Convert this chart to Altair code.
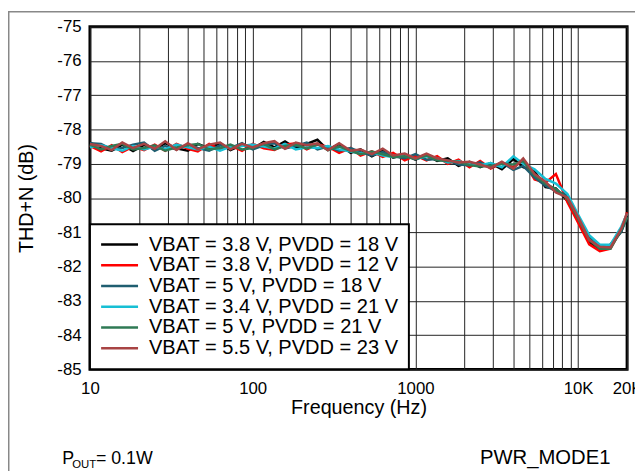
import altair as alt
import pandas as pd

freq = [10, 11.7, 13.6, 15.8, 18.4, 21.5, 25, 29, 34, 40, 46, 54, 63, 73, 86,
        100, 117, 136, 158, 184, 215, 250, 290, 340, 400, 460, 540, 630, 730, 860,
        1000, 1170, 1360, 1580, 1840, 2150, 2500, 2900, 3400, 4000, 4600, 5400,
        6300, 7300, 8600, 10000, 11700, 13600, 15800, 18400, 20000]

s1 = [-78.38, -78.55, -78.62, -78.44, -78.63, -78.45, -78.58, -78.40, -78.55, -78.62,
      -78.42, -78.55, -78.40, -78.60, -78.45, -78.56, -78.36, -78.52, -78.35, -78.55,
      -78.42, -78.30, -78.60, -78.42, -78.68, -78.58, -78.78, -78.62, -78.82, -78.74,
      -78.88, -78.74, -78.92, -78.84, -79.06, -78.94, -79.10, -78.98, -79.16, -78.86,
      -79.10, -79.22, -79.68, -79.72, -80.08, -80.62, -81.28, -81.50, -81.36, -80.98, -80.50]
s2 = [-78.48, -78.64, -78.46, -78.66, -78.50, -78.60, -78.44, -78.62, -78.42, -78.56,
      -78.64, -78.42, -78.58, -78.46, -78.62, -78.42, -78.55, -78.60, -78.44, -78.40,
      -78.58, -78.44, -78.50, -78.68, -78.54, -78.76, -78.64, -78.80, -78.68, -78.90,
      -78.76, -78.90, -78.78, -79.00, -78.88, -79.10, -78.92, -79.14, -78.98, -79.10,
      -78.90, -79.46, -79.55, -79.30, -80.12, -80.72, -81.35, -81.55, -81.48, -80.92, -80.42]
s3 = [-78.40, -78.42, -78.58, -78.54, -78.44, -78.38, -78.62, -78.48, -78.58, -78.44,
      -78.54, -78.62, -78.46, -78.54, -78.40, -78.58, -78.46, -78.40, -78.55, -78.48,
      -78.38, -78.58, -78.50, -78.62, -78.54, -78.66, -78.76, -78.66, -78.78, -78.84,
      -78.72, -78.88, -78.86, -78.90, -79.02, -79.04, -78.96, -79.12, -78.96, -79.18,
      -79.06, -79.40, -79.64, -79.80, -79.92, -80.55, -81.12, -81.42, -81.40, -80.98, -80.56]
s4 = [-78.52, -78.46, -78.54, -78.62, -78.48, -78.58, -78.50, -78.58, -78.44, -78.52,
      -78.58, -78.50, -78.62, -78.50, -78.48, -78.44, -78.50, -78.55, -78.42, -78.58,
      -78.52, -78.54, -78.48, -78.58, -78.64, -78.70, -78.66, -78.76, -78.80, -78.76,
      -78.86, -78.78, -78.84, -78.96, -78.92, -79.02, -79.04, -78.98, -79.10, -78.78,
      -79.00, -79.16, -79.44, -79.58, -79.88, -80.48, -81.08, -81.36, -81.36, -80.84, -80.46]
s5 = [-78.44, -78.58, -78.48, -78.42, -78.58, -78.54, -78.46, -78.62, -78.52, -78.46,
      -78.42, -78.58, -78.54, -78.44, -78.58, -78.54, -78.42, -78.58, -78.48, -78.44,
      -78.56, -78.42, -78.60, -78.50, -78.62, -78.72, -78.64, -78.72, -78.80, -78.78,
      -78.86, -78.76, -78.90, -78.92, -78.94, -79.04, -79.08, -79.06, -79.00, -79.02,
      -78.92, -79.34, -79.58, -79.74, -80.02, -80.60, -81.22, -81.48, -81.48, -80.92, -80.56]
s6 = [-78.42, -78.48, -78.60, -78.38, -78.54, -78.42, -78.56, -78.34, -78.60, -78.40,
      -78.58, -78.44, -78.38, -78.58, -78.42, -78.52, -78.40, -78.34, -78.56, -78.38,
      -78.46, -78.40, -78.60, -78.40, -78.62, -78.58, -78.72, -78.56, -78.76, -78.70,
      -78.84, -78.70, -78.84, -78.90, -78.96, -78.94, -79.02, -79.12, -78.94, -79.14,
      -78.84, -79.30, -79.52, -79.84, -79.98, -80.55, -81.22, -81.42, -81.44, -80.90, -80.44]

series_names = ["VBAT = 3.8 V, PVDD = 18 V", "VBAT = 3.8 V, PVDD = 12 V",
                "VBAT = 5 V, PVDD = 18 V", "VBAT = 3.4 V, PVDD = 21 V",
                "VBAT = 5 V, PVDD = 21 V", "VBAT = 5.5 V, PVDD = 23 V"]
series_colors = ["#000000", "#ff0000", "#1f5e70", "#17bfd4", "#2f7a55", "#a84444"]

x_grid = [10, 20, 30, 40, 50, 60, 70, 80, 90,
          100, 200, 300, 400, 500, 600, 700, 800, 900,
          1000, 2000, 3000, 4000, 5000, 6000, 7000, 8000, 9000,
          10000, 20000]
y_ticks = [-85, -84, -83, -82, -81, -80, -79, -78, -77, -76, -75]

rows = []
for name, vals in zip(series_names, [s1, s2, s3, s4, s5, s6]):
    for f, v in zip(freq, vals):
        rows.append({"Frequency": f, "THD": v, "Series": name})
df = pd.DataFrame(rows)

FONT = "Liberation Sans"

x_label_expr = ("datum.value == 10 ? '10' : datum.value == 100 ? '100' : "
                "datum.value == 1000 ? '1000' : datum.value == 10000 ? '10K' : "
                "datum.value == 20000 ? '20K' : ''")

lines = alt.Chart(df).mark_line(strokeWidth=2.5).encode(
    x=alt.X("Frequency:Q",
            scale=alt.Scale(type="log", domain=[10, 20000], nice=False),
            axis=alt.Axis(values=x_grid, title="Frequency (Hz)", labelExpr=x_label_expr,
                          labelOverlap=False, labelPadding=11, titlePadding=2,
                          labelFlush=False)),
    y=alt.Y("THD:Q",
            scale=alt.Scale(domain=[-85, -75], nice=False, zero=False),
            axis=alt.Axis(values=y_ticks, title="THD+N (dB)", labelExpr="'' + datum.value",
                          labelPadding=9, titlePadding=21, labelFlush=False)),
    color=alt.Color("Series:N",
                    scale=alt.Scale(domain=series_names, range=series_colors),
                    legend=alt.Legend(orient="bottom-left", offset=0, title=None,
                                      symbolType="M-1.1,0H3.3", symbolSize=289,
                                      symbolStrokeWidth=2.5, labelFontSize=20.3,
                                      labelFont=FONT, labelColor="black",
                                      labelOffset=29, padding=10.5, rowPadding=-0.8,
                                      fillColor="white", strokeColor="black",
                                      labelLimit=400)),
)

dummy = alt.Data(values=[{}])


def txt(s, size, xpos, ypos):
    return alt.Chart(dummy).mark_text(text=s, fontSize=size, font=FONT, align="left",
                                      baseline="alphabetic", color="black").encode(
        x=alt.value(xpos), y=alt.value(ypos))


p_main = txt("P", 18, -28, 443)
p_sub = txt("OUT", 11.5, -18, 447)
p_rest = txt("= 0.1W", 18, 6, 443)
mode = txt("PWR_MODE1", 20.5, 395, 443)

frame_top = alt.Chart(dummy).mark_rule(color="#888888", strokeWidth=1.5).encode(
    x=alt.value(-83), x2=alt.value(552), y=alt.value(-15.25))
frame_left = alt.Chart(dummy).mark_rule(color="#888888", strokeWidth=1.5).encode(
    x=alt.value(-82.25), y=alt.value(-16), y2=alt.value(450))

chart = alt.layer(lines, p_main, p_sub, p_rest, mode, frame_top, frame_left).properties(
    width=544, height=347,
    autosize=alt.AutoSizeParams(type="none"),
    padding={"left": 83, "top": 16, "right": 8, "bottom": 103},
).configure(font=FONT).configure_view(
    stroke="black", strokeWidth=3
).configure_axis(
    labelFontSize=17, titleFontSize=20, titleFontWeight="normal",
    labelColor="black", titleColor="black", labelFont=FONT, titleFont=FONT,
    ticks=False, tickSize=0, domain=False,
    gridColor="#222222", gridWidth=1, gridOpacity=1,
).configure_legend(strokeWidth=2)

chart.save("out.html", embed_options={"renderer": "svg", "actions": False})
